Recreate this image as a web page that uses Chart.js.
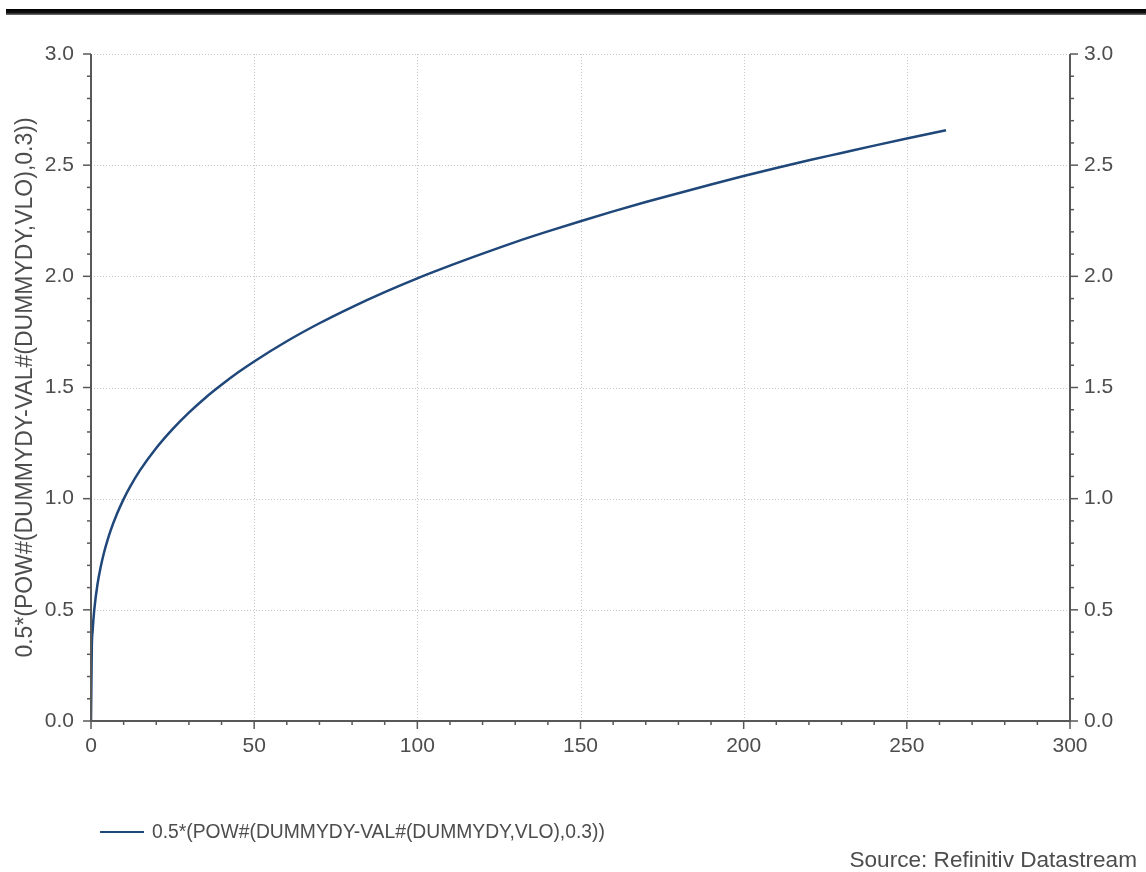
<!DOCTYPE html>
<html>
<head>
<meta charset="utf-8">
<script src="https://cdn.jsdelivr.net/npm/chart.js@4.4.1/dist/chart.umd.min.js"></script>
<style>
  html, body { margin: 0; padding: 0; background: #fff; }
  body { width: 1146px; height: 872px; position: relative; overflow: hidden; font-family: "Liberation Sans", Arial, sans-serif; }
  #topbar { position: absolute; left: 6px; top: 9px; width: 1140px; height: 6px;
            background: linear-gradient(#000 0%, #111 60%, #777 100%); }
  #wrap { position: absolute; left: 0; top: 0; width: 1146px; height: 872px; }
  #legend { position: absolute; left: 100px; top: 819px; height: 26px; display: flex; align-items: center; }
  #legend .swatch { width: 44px; height: 0; border-top: 2.5px solid #1f477a; margin-right: 8px; }
  #legend .label { font-size: 19.3px; color: #4d4d4d; white-space: nowrap; }
  #source { position: absolute; right: 9px; top: 847px; font-size: 22.6px; color: #4d4d4d; white-space: nowrap; }
</style>
</head>
<body>
<div id="topbar"></div>
<div id="wrap"><canvas id="c" width="1146" height="872"></canvas></div>
<div id="legend"><span class="swatch"></span><span class="label">0.5*(POW#(DUMMYDY-VAL#(DUMMYDY,VLO),0.3))</span></div>
<div id="source">Source: Refinitiv Datastream</div>
<script>
// ---- data ----
const seriesName = "0.5*(POW#(DUMMYDY-VAL#(DUMMYDY,VLO),0.3))";
const xValues = [0, 0.25, 0.5, 1, 2, 3, 4, 5, 6, 8, 10, 12, 15, 20, 25, 30, 35, 40, 45, 50,
                 60, 70, 80, 90, 100, 110, 120, 130, 140, 150, 160, 170, 180, 190, 200,
                 210, 220, 230, 240, 250, 262];
const yValues = [0, 0.33, 0.406, 0.5, 0.616, 0.695, 0.758, 0.81, 0.856, 0.933, 0.998, 1.054, 1.127, 1.228, 1.313, 1.387, 1.453, 1.512, 1.567, 1.617,
                 1.708, 1.789, 1.862, 1.929, 1.991, 2.048, 2.102, 2.154, 2.202, 2.248, 2.292, 2.334, 2.374, 2.413, 2.451,
                 2.487, 2.522, 2.555, 2.588, 2.62, 2.657];
const xTicks = [0, 50, 100, 150, 200, 250, 300];
const yTicks = [0.0, 0.5, 1.0, 1.5, 2.0, 2.5, 3.0];

const points = xValues.map((x, i) => ({ x: x, y: yValues[i] }));

const AXIS_COLOR = '#585858';
const GRID_COLOR = '#c9c9c9';
const TEXT_COLOR = '#4d4d4d';
const FONT = '"Liberation Sans", Arial, sans-serif';

const gridPlugin = {
  id: 'gridPlugin',
  beforeDatasetsDraw(chart) {
    const { ctx, chartArea: a, scales: { x, y } } = chart;
    ctx.save();
    ctx.strokeStyle = GRID_COLOR;
    ctx.lineWidth = 1;
    ctx.setLineDash([1, 2]);
    xTicks.forEach(v => {
      if (v === 0 || v === 300) return;
      const px = Math.round(x.getPixelForValue(v)) + 0.5;
      ctx.beginPath(); ctx.moveTo(px, a.top); ctx.lineTo(px, a.bottom); ctx.stroke();
    });
    yTicks.forEach(v => {
      if (v === 0) return;
      const py = Math.round(y.getPixelForValue(v)) + 0.5;
      ctx.beginPath(); ctx.moveTo(a.left, py); ctx.lineTo(a.right, py); ctx.stroke();
    });
    ctx.restore();
  },
  afterDatasetsDraw(chart) {
    const { ctx, chartArea: a, scales: { x, y } } = chart;
    ctx.save();
    ctx.strokeStyle = AXIS_COLOR;
    ctx.lineWidth = 2;
    ctx.setLineDash([]);
    ctx.beginPath();
    ctx.moveTo(a.left, a.top); ctx.lineTo(a.left, a.bottom); ctx.lineTo(a.right, a.bottom); ctx.lineTo(a.right, a.top);
    ctx.stroke();
    ctx.lineWidth = 1.5;
    for (let v = 0; v <= 300; v += 10) {
      const px = x.getPixelForValue(v);
      const len = (v % 50 === 0) ? 8 : 4;
      ctx.beginPath(); ctx.moveTo(px, a.bottom); ctx.lineTo(px, a.bottom + len); ctx.stroke();
    }
    for (let i = 0; i <= 30; i++) {
      const v = i / 10;
      const py = y.getPixelForValue(v);
      const len = (i % 5 === 0) ? 8 : 4;
      ctx.beginPath(); ctx.moveTo(a.left, py); ctx.lineTo(a.left - len, py); ctx.stroke();
      ctx.beginPath(); ctx.moveTo(a.right, py); ctx.lineTo(a.right + len, py); ctx.stroke();
    }
    ctx.restore();
  }
};

const yTickCfg = {
  stepSize: 0.5,
  color: TEXT_COLOR,
  font: { family: FONT, size: 21 },
  callback: v => Number(v).toFixed(1)
};

new Chart(document.getElementById('c'), {
  type: 'line',
  data: {
    datasets: [{
      label: seriesName,
      data: points,
      borderColor: '#1f477a',
      borderWidth: 2.5,
      pointRadius: 0,
      fill: false,
      cubicInterpolationMode: 'monotone'
    }]
  },
  options: {
    responsive: false,
    animation: false,
    layout: { padding: { top: 54, left: 0, right: 0, bottom: 0 } },
    plugins: { legend: { display: false }, tooltip: { enabled: false } },
    scales: {
      x: {
        type: 'linear', min: 0, max: 300,
        grid: { display: false, drawTicks: false }, border: { display: false },
        ticks: { stepSize: 50, color: TEXT_COLOR, font: { family: FONT, size: 21 }, padding: 13, maxRotation: 0 },
        afterFit: s => { s.height = 151; }
      },
      y: {
        position: 'left', min: 0, max: 3,
        grid: { display: false, drawTicks: false }, border: { display: false },
        ticks: Object.assign({ padding: 17 }, yTickCfg),
        title: { display: true, text: seriesName, color: TEXT_COLOR, font: { family: FONT, size: 23 }, padding: { top: 12, bottom: 0 } },
        afterFit: s => { s.width = 91; }
      },
      y2: {
        position: 'right', min: 0, max: 3,
        grid: { display: false, drawTicks: false }, border: { display: false },
        ticks: Object.assign({ padding: 14 }, yTickCfg),
        afterFit: s => { s.width = 76; }
      }
    }
  },
  plugins: [gridPlugin]
});
</script>
</body>
</html>
